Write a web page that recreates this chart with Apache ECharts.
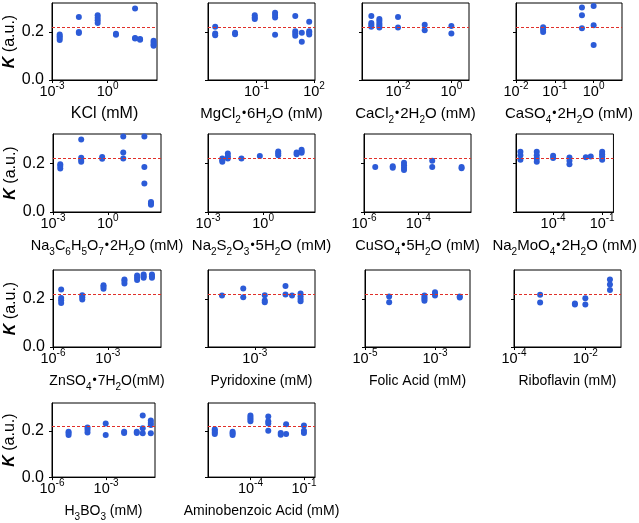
<!DOCTYPE html>
<html>
<head>
<meta charset="utf-8">
<script src="https://cdn.jsdelivr.net/npm/echarts/dist/echarts.min.js"></script>
<style>
  html, body { margin: 0; padding: 0; background: #fff; }
  #main { width: 639px; height: 523px; }
</style>
</head>
<body>
<div id="main"></div>
<script>
// concentrations in mM, K values grouped per concentration
var kclConc = [0.0026, 0.028, 0.29, 2.8, 30, 56, 300];
var kclK = [[0.166, 0.175, 0.182, 0.189], [0.262, 0.2, 0.195], [0.269, 0.259, 0.248, 0.237], [0.192, 0.188], [0.297, 0.175, 0.172], [0.17, 0.167], [0.163, 0.156, 0.148, 0.142]];
var kclTicks = [-3, 0];

var mgConc = [0.0007, 0.0076, 0.081, 0.93, 10.5, 23, 56];
var mgK = [[0.221, 0.193, 0.186], [0.196, 0.19], [0.269, 0.26, 0.253], [0.28, 0.27, 0.26, 0.188], [0.266, 0.203, 0.193, 0.184], [0.196, 0.159], [0.242, 0.203, 0.196, 0.189]];
var mgTicks = [-1, 2];

var caclConc = [0.001, 0.002, 0.01, 0.1, 1];
var caclK = [[0.266, 0.237, 0.23, 0.221], [0.253, 0.245, 0.235, 0.226, 0.218], [0.262, 0.218], [0.23, 0.207], [0.224, 0.193]];
var caclTicks = [-2, 0];

var casoConc = [0.05, 0.5, 1];
var casoK = [[0.219, 0.21, 0.2], [0.301, 0.269, 0.215], [0.308, 0.228, 0.145]];
var casoTicks = [-2, -1, 0];

var citConc = [0.0025, 0.035, 0.49, 7, 100, 230];
var citK = [[0.196, 0.189, 0.178], [0.297, 0.223, 0.214, 0.206], [0.226, 0.218], [0.31, 0.244, 0.219], [0.31, 0.185, 0.117], [0.041, 0.036, 0.03]];
var citTicks = [-3, 0];

var thioConc = [0.006, 0.012, 0.066, 0.66, 6.6, 66, 123];
var thioK = [[0.219, 0.212, 0.206], [0.24, 0.229, 0.219], [0.219], [0.23], [0.248, 0.241, 0.233], [0.244, 0.237], [0.255, 0.248, 0.243]];
var thioTicks = [-3, 0];

var cuConc = [2.6e-6, 1.15e-5, 3e-5, 3.3e-4, 4e-3];
var cuK = [[0.185], [0.188, 0.182], [0.202, 0.192, 0.182, 0.172], [0.21, 0.185], [0.185, 0.179]];
var cuTicks = [-6, -4];

var moConc = [1e-6, 1e-5, 1e-4, 1e-3, 0.01, 0.02, 0.1];
var moK = [[0.247, 0.233, 0.214], [0.247, 0.233, 0.219, 0.206], [0.231, 0.222], [0.224, 0.21, 0.196], [0.225], [0.228], [0.247, 0.237, 0.228, 0.214]];
var moTicks = [-4, -1];

var znConc = [2.8e-6, 4e-5, 5.8e-4, 8.1e-3, 0.04, 0.091, 0.26];
var znK = [[0.239, 0.204, 0.194, 0.183], [0.215, 0.207, 0.197], [0.257, 0.25, 0.242], [0.281, 0.274, 0.264], [0.297, 0.288, 0.278], [0.301, 0.294, 0.288], [0.301, 0.294, 0.288]];
var znTicks = [-6, -3];

var pyrConc = [2.6e-5, 2.75e-4, 3e-3, 0.03, 0.062, 0.16];
var pyrK = [[0.214], [0.243, 0.207], [0.215, 0.193, 0.186], [0.253, 0.218], [0.214], [0.222, 0.211, 0.2, 0.19]];
var pyrTicks = [-3];

var folConc = [4.9e-5, 5e-4, 1e-3, 5.1e-3];
var folK = [[0.21, 0.186], [0.214, 0.206, 0.199, 0.192], [0.228, 0.221, 0.214], [0.21, 0.206]];
var folTicks = [-5, -3];

var ribConc = [5.4e-4, 5.1e-3, 0.01, 0.049];
var ribK = [[0.217, 0.185], [0.181, 0.177], [0.203, 0.177], [0.281, 0.26, 0.237]];
var ribTicks = [-4, -2];

var boConc = [8.3e-6, 9.3e-5, 9.5e-4, 0.01, 0.05, 0.107, 0.3];
var boK = [[0.196, 0.19, 0.182], [0.214, 0.204, 0.193], [0.232, 0.182], [0.196, 0.19], [0.196, 0.19], [0.266, 0.211, 0.189], [0.244, 0.234, 0.225, 0.189]];
var boTicks = [-6, -3];

var abaConc = [1e-6, 1e-5, 1e-4, 1e-3, 5e-3, 0.01, 0.1];
var abaK = [[0.207, 0.2, 0.193, 0.186], [0.196, 0.189, 0.182], [0.266, 0.257, 0.25, 0.241], [0.262, 0.241, 0.232, 0.2], [0.19, 0.183], [0.228, 0.186], [0.223, 0.2, 0.19]];
var abaTicks = [-4, -1];

var kTicks = [0, 0.2];
var kRef = 0.222;

// box = [left, top, width, height], xr = log10 range of the axis, fs = title font size
var panels = [
    { conc: kclConc, k: kclK, ticks: kclTicks, xr: [-3, 2.66], box: [52, 3, 105, 77], fs: 16, name: 'KCl (mM)' },
    { conc: mgConc, k: mgK, ticks: mgTicks, xr: [-3.53, 2.05], box: [208, 3, 107, 77], fs: 15, name: 'MgCl{s|2}{d|•}6H{s|2}O (mM)' },
    { conc: caclConc, k: caclK, ticks: caclTicks, xr: [-3.35, 0.66], box: [362, 3, 107, 77], fs: 15, name: 'CaCl{s|2}{d|•}2H{s|2}O (mM)' },
    { conc: casoConc, k: casoK, ticks: casoTicks, xr: [-2, 0.73], box: [516, 3, 106, 77], fs: 15, name: 'CaSO{s|4}{d|•}2H{s|2}O (mM)' },
    { conc: citConc, k: citK, ticks: citTicks, xr: [-3, 2.91], box: [53, 134, 108, 78], fs: 14.5, name: 'Na{s|3}C{s|6}H{s|5}O{s|7}{d|•}2H{s|2}O (mM)' },
    { conc: thioConc, k: thioK, ticks: thioTicks, xr: [-3, 2.82], box: [208, 134, 107, 78], fs: 15, name: 'Na{s|2}S{s|2}O{s|3}{d|•}5H{s|2}O (mM)' },
    { conc: cuConc, k: cuK, ticks: cuTicks, xr: [-6, -2.05], box: [364, 134, 107, 78], fs: 14.5, name: 'CuSO{s|4}{d|•}5H{s|2}O (mM)' },
    { conc: moConc, k: moK, ticks: moTicks, xr: [-6.27, -0.31], box: [516, 134, 106, 78], fs: 15, name: 'Na{s|2}MoO{s|4}{d|•}2H{s|2}O (mM)' },
    { conc: znConc, k: znK, ticks: znTicks, xr: [-6, -0.09], box: [53, 270, 108, 77], fs: 14, name: 'ZnSO{s|4}{d|•}7H{s|2}O(mM)' },
    { conc: pyrConc, k: pyrK, ticks: pyrTicks, xr: [-5.26, -0.1], box: [208, 270, 107, 77], fs: 14, name: 'Pyridoxine (mM)' },
    { conc: folConc, k: folK, ticks: folTicks, xr: [-5, -2], box: [365, 270, 105, 77], fs: 14, name: 'Folic Acid (mM)' },
    { conc: ribConc, k: ribK, ticks: ribTicks, xr: [-4, -1], box: [514, 270, 107, 77], fs: 14, name: 'Riboflavin (mM)' },
    { conc: boConc, k: boK, ticks: boTicks, xr: [-6, -0.29], box: [52, 403, 103, 78], fs: 14, name: 'H{s|3}BO{s|3} (mM)' },
    { conc: abaConc, k: abaK, ticks: abaTicks, xr: [-6.38, -0.38], box: [208, 403, 107, 78], fs: 14, name: 'Aminobenzoic Acid (mM)' }
];

var font = 'Liberation Sans, Arial, sans-serif';
var black = '#000';

var grids = [], xAxes = [], yAxes = [], series = [];
panels.forEach(function (p, i) {
    var firstCol = p.box[0] < 100;
    var subSize = Math.round(p.fs * 0.68);
    grids.push({
        left: p.box[0], top: p.box[1], width: p.box[2], height: p.box[3],
        show: true, borderColor: black, borderWidth: 1, containLabel: false
    });
    xAxes.push({
        gridIndex: i, type: 'value', min: p.xr[0], max: p.xr[1],
        splitLine: { show: false },
        axisLine: { show: true, onZero: false, lineStyle: { color: black, width: 1 } },
        axisTick: { show: true, length: 3, customValues: p.ticks, lineStyle: { color: black } },
        axisLabel: {
            customValues: p.ticks, margin: 1,
            formatter: function (v) { return '10{p|' + Math.round(v) + '}'; },
            color: black, fontSize: 14.5, fontFamily: font, lineHeight: 21,
            rich: { p: { fontSize: 10, lineHeight: 13, verticalAlign: 'top', color: black, fontFamily: font } }
        },
        name: p.name, nameLocation: 'middle', nameGap: 18,
        nameTextStyle: {
            color: black, fontSize: p.fs, fontFamily: font, lineHeight: 22,
            rich: {
                s: { fontSize: subSize, lineHeight: subSize, verticalAlign: 'bottom', color: black, fontFamily: font },
                d: { fontSize: 12, color: black, fontFamily: font, padding: [0, 1, 0, 1] }
            }
        }
    });
    yAxes.push({
        gridIndex: i, type: 'value', min: 0, max: 0.32,
        splitLine: { show: false },
        axisLine: { show: true, onZero: false, lineStyle: { color: black, width: 1 } },
        axisTick: { show: true, length: 3, customValues: kTicks, lineStyle: { color: black } },
        axisLabel: {
            show: firstCol, customValues: kTicks, margin: 8,
            formatter: function (v) { return v.toFixed(1); },
            color: black, fontSize: 16, fontFamily: font
        },
        name: firstCol ? '{k|K} (a.u.)' : '', nameLocation: 'middle', nameGap: 32,
        nameTextStyle: {
            color: black, fontSize: 16, fontFamily: font,
            rich: { k: { fontWeight: 'bold', fontStyle: 'italic', fontSize: 16, color: black, fontFamily: font } }
        }
    });
    var pts = [];
    p.conc.forEach(function (c, j) {
        p.k[j].forEach(function (v) { pts.push([Math.log10(c), v]); });
    });
    series.push({
        type: 'scatter', xAxisIndex: i, yAxisIndex: i, data: pts,
        symbolSize: 6, itemStyle: { color: '#2c5bd7', opacity: 1 },
        markLine: {
            silent: true, symbol: 'none', label: { show: false },
            lineStyle: { type: [3, 2], color: '#e0302a', width: 1 },
            data: [{ yAxis: kRef }]
        }
    });
});

var myChart = echarts.init(document.getElementById('main'));
myChart.setOption({
    backgroundColor: '#ffffff',
    animation: false,
    grid: grids,
    xAxis: xAxes,
    yAxis: yAxes,
    series: series
});
</script>
</body>
</html>
